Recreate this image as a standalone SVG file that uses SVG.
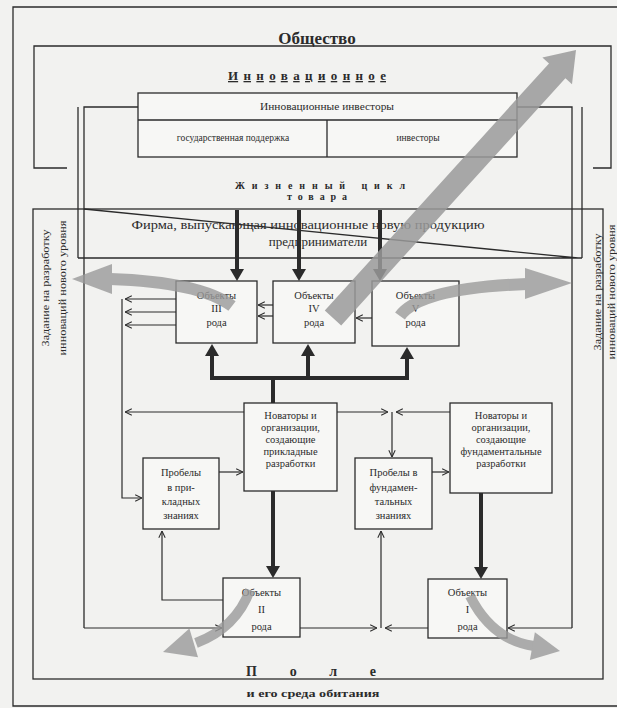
<svg xmlns="http://www.w3.org/2000/svg" width="617" height="708" viewBox="0 0 617 708">
<defs>
<style>
.ln{fill:none;stroke:#2b2b2b;stroke-width:1.3}
.hv{fill:none;stroke:#2b2b2b;stroke-width:4;marker-end:url(#hv)}
.ta{fill:none;stroke:#2b2b2b;stroke-width:1.2;marker-end:url(#th)}
.box{fill:#f7f7f5;stroke:#2b2b2b;stroke-width:1.3}
.t{font-family:"Liberation Serif","Times New Roman",serif;fill:#2b2b2b;text-anchor:middle;font-size:10.5px}
.b{font-weight:bold}
.gs{fill:none;stroke:#9a9a9a;stroke-linecap:butt}
.gf{fill:#9a9a9a}
</style>
<marker id="th" viewBox="0 0 10 10" refX="9.5" refY="5" markerWidth="8" markerHeight="8" markerUnits="userSpaceOnUse" orient="auto"><path d="M1,1 L9.5,5 L1,9" fill="none" stroke="#2b2b2b" stroke-width="1.3"/></marker>
<marker id="hv" viewBox="0 0 12 14" refX="3" refY="7" markerWidth="12" markerHeight="14" markerUnits="userSpaceOnUse" orient="auto"><path d="M0,0 L12,7 L0,14 z" fill="#2b2b2b"/></marker>
</defs>
<rect x="0" y="0" width="617" height="708" fill="#f2f2f0"/>

<g id="outer-frame"><path class="ln" d="M620,7 H13 V706 H620"/></g>

<g id="obschestvo">
<path class="ln" d="M67,168 H34 V46 H611 V168 H593"/>
<text class="t b" x="317" y="44" style="font-size:17px">Общество</text>
</g>

<g id="innovacionnoe">
<text class="t b" x="307" y="80" style="font-size:13px;text-decoration:underline" textLength="158" lengthAdjust="spacing">Инновационное</text>
</g>

<g id="investors">
<path class="ln" d="M138,107 H84 V628 M517,107 H572 V628"/>
<rect class="box" x="138" y="93" width="379" height="64"/>
<path class="ln" d="M138,120 H517 M327,120 V157"/>
<text class="t" x="327" y="110" textLength="134" lengthAdjust="spacingAndGlyphs">Инновационные инвесторы</text>
<text class="t" x="233" y="141" style="font-size:9.5px">государственная поддержка</text>
<text class="t" x="418" y="141" style="font-size:9.5px">инвесторы</text>
</g>

<g id="lifecycle">
<path class="ln" d="M78,107 V258 M582,107 V258"/>
<text class="t b" x="320" y="189" style="font-size:10px" textLength="170" lengthAdjust="spacing">Жизненный цикл</text>
<text class="t b" x="317" y="200" style="font-size:10px" textLength="60" lengthAdjust="spacing">товара</text>
</g>

<g id="zadanie">
<rect class="ln" x="33" y="209" width="570" height="470"/>
<text class="t" transform="translate(48.5,288) rotate(-90)" textLength="117" lengthAdjust="spacingAndGlyphs">Задание на разработку</text>
<text class="t" transform="translate(65.5,288) rotate(-90)" textLength="135" lengthAdjust="spacingAndGlyphs">инноваций нового уровня</text>
<text class="t" transform="translate(600.5,292) rotate(-90)" textLength="117" lengthAdjust="spacingAndGlyphs">Задание на разработку</text>
<text class="t" transform="translate(614.5,292) rotate(-90)" textLength="135" lengthAdjust="spacingAndGlyphs">инноваций нового уровня</text>
</g>

<g id="firm">
<path class="ln" d="M78,258 H582 M84,209 L578,258"/>
<text class="t" x="308" y="229" style="font-size:13px" textLength="353" lengthAdjust="spacingAndGlyphs">Фирма, выпускающая инновационные новую продукцию</text>
<text class="t" x="318" y="246" style="font-size:13px">предприниматели</text>
</g>

<g id="obj3">
<rect class="box" x="176" y="281" width="81" height="62"/>
<text class="t" x="216.5" y="299">Объекты</text>
<text class="t" x="216.5" y="312">III</text>
<text class="t" x="216.5" y="326">рода</text>
</g>
<g id="obj4">
<rect class="box" x="273" y="281" width="82" height="62"/>
<text class="t" x="314" y="299">Объекты</text>
<text class="t" x="314" y="312">IV</text>
<text class="t" x="314" y="326">рода</text>
</g>
<g id="obj5">
<rect class="box" x="372" y="281" width="87" height="65"/>
<text class="t" x="415.5" y="299">Объекты</text>
<text class="t" x="415.5" y="312">V</text>
<text class="t" x="415.5" y="326">рода</text>
</g>

<g id="nov-prikl">
<rect class="box" x="244" y="403" width="93" height="88"/>
<text class="t" x="290.5" y="419">Новаторы и</text>
<text class="t" x="290.5" y="431">организации,</text>
<text class="t" x="290.5" y="443">создающие</text>
<text class="t" x="290.5" y="455">прикладные</text>
<text class="t" x="290.5" y="467">разработки</text>
</g>
<g id="nov-fund">
<rect class="box" x="450" y="403" width="102" height="90"/>
<text class="t" x="501" y="419">Новаторы и</text>
<text class="t" x="501" y="431">организации,</text>
<text class="t" x="501" y="443">создающие</text>
<text class="t" x="501" y="455">фундаментальные</text>
<text class="t" x="501" y="467">разработки</text>
</g>

<g id="prob-prikl">
<rect class="box" x="143" y="458" width="76" height="71"/>
<text class="t" x="181" y="476">Пробелы</text>
<text class="t" x="181" y="491">в при-</text>
<text class="t" x="181" y="505">кладных</text>
<text class="t" x="181" y="519">знаниях</text>
</g>
<g id="prob-fund">
<rect class="box" x="355" y="458" width="77" height="71"/>
<text class="t" x="393.5" y="476">Пробелы в</text>
<text class="t" x="393.5" y="491">фундамен-</text>
<text class="t" x="393.5" y="505">тальных</text>
<text class="t" x="393.5" y="519">знаниях</text>
</g>

<g id="obj2">
<rect class="box" x="223" y="578" width="77" height="59"/>
<text class="t" x="261.5" y="596">Объекты</text>
<text class="t" x="261.5" y="613">II</text>
<text class="t" x="261.5" y="630">рода</text>
</g>
<g id="obj1">
<rect class="box" x="428" y="579" width="79" height="59"/>
<text class="t" x="467.5" y="596">Объекты</text>
<text class="t" x="467.5" y="613">I</text>
<text class="t" x="467.5" y="630">рода</text>
</g>

<g id="pole">
<text class="t b" x="311" y="676" style="font-size:14px" textLength="130" lengthAdjust="spacing">Поле</text>
<text class="t b" x="313" y="697" style="font-size:10.5px" textLength="133" lengthAdjust="spacingAndGlyphs">и его среда обитания</text>
</g>

<g id="connectors">
<path class="hv" d="M237,210 V272"/>
<path class="hv" d="M299,210 V272"/>
<path class="hv" d="M380,210 V272"/>
<path fill="none" stroke="#2b2b2b" stroke-width="4" d="M212,378 H407 M273,376 V403"/>
<path class="hv" d="M212,380 V353"/>
<path class="hv" d="M308,380 V353"/>
<path class="hv" d="M407,380 V356"/>
<path class="hv" d="M273,491 V569"/>
<path class="hv" d="M481,493 V570"/>
<path class="ta" d="M176,299 H125"/>
<path class="ta" d="M176,312 H125"/>
<path class="ta" d="M176,325 H125"/>
<path class="ta" d="M122,299 V498 H142"/>
<path class="ta" d="M244,412 H125"/>
<path class="ta" d="M337,412 H388"/>
<path class="ta" d="M450,412 H396"/>
<path class="ta" d="M392,412 V457"/>
<path class="ta" d="M219,472 H243"/>
<path class="ta" d="M432,472 H449"/>
<path class="ta" d="M273,305 H258"/>
<path class="ta" d="M273,316 H258"/>
<path class="ta" d="M372,318 H356"/>
<path class="ta" d="M223,600 H162 V531"/>
<path class="ta" d="M381,628 V531"/>
<path class="ta" d="M84,628 H222"/>
<path class="ta" d="M300,628 H377"/>
<path class="ta" d="M428,628 H385"/>
<path class="ta" d="M572,628 H508"/>
</g>

<g id="gray-arrows">
<g opacity="0.85">
<polygon class="gf" points="324.8,310.6 549.0,63.4 542.4,57.4 576,50 572.0,84.2 565.4,78.2 341.2,325.4"/>
</g>
<g opacity="0.8">
<path class="gs" stroke-width="12" d="M232,306 Q200,282 110,279"/>
<polygon class="gf" points="72,279 112,264 112,294"/>
</g>
<g opacity="0.8">
<path class="gs" stroke-width="12" d="M400,316 Q420,288 527,284"/>
<polygon class="gf" points="572,283 525,268 525,299"/>
</g>
<g opacity="0.8">
<path class="gs" stroke-width="10" d="M250,590 Q236,628 196,643"/>
<polygon class="gf" points="163,652 198,657.3 189.4,628.5"/>
</g>
<g opacity="0.8">
<path class="gs" stroke-width="10" d="M470,596 Q492,640 534,646"/>
<polygon class="gf" points="560,651 529.9,659.9 534.9,632.3"/>
</g>
</g>
</svg>
